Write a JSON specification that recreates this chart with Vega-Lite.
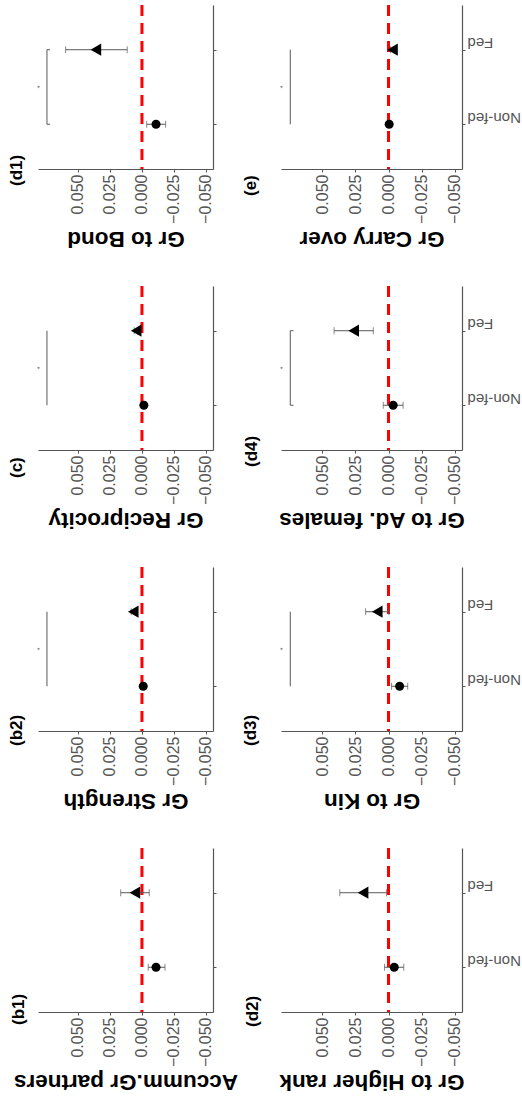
{
  "$schema": "https://vega.github.io/schema/vega-lite/v6.json",
  "padding": {"left": 8, "top": 3, "right": 0, "bottom": 0},
  "background": "white",
  "datasets": {
    "pts": [
      {"panel": "d1", "group": "Non-fed", "mean": -0.011, "lo": -0.0185, "hi": -0.0037},
      {"panel": "d1", "group": "Fed", "mean": 0.036, "lo": 0.0115, "hi": 0.0596},
      {"panel": "c", "group": "Non-fed", "mean": -0.0015, "lo": -0.003, "hi": 0.0},
      {"panel": "c", "group": "Fed", "mean": 0.0045, "lo": 0.003, "hi": 0.006},
      {"panel": "b2", "group": "Non-fed", "mean": -0.001, "lo": -0.0025, "hi": 0.0005},
      {"panel": "b2", "group": "Fed", "mean": 0.0068, "lo": 0.0052, "hi": 0.0084},
      {"panel": "b1", "group": "Non-fed", "mean": -0.011, "lo": -0.018, "hi": -0.0049},
      {"panel": "b1", "group": "Fed", "mean": 0.0055, "lo": -0.0057, "hi": 0.0166},
      {"panel": "e", "group": "Non-fed", "mean": -0.0005, "lo": -0.002, "hi": 0.001},
      {"panel": "e", "group": "Fed", "mean": -0.003, "lo": -0.0045, "hi": -0.0015},
      {"panel": "d4", "group": "Non-fed", "mean": -0.0035, "lo": -0.011, "hi": 0.004},
      {"panel": "d4", "group": "Fed", "mean": 0.0263, "lo": 0.0115, "hi": 0.0411},
      {"panel": "d3", "group": "Non-fed", "mean": -0.0084, "lo": -0.0145, "hi": -0.0023},
      {"panel": "d3", "group": "Fed", "mean": 0.0085, "lo": -0.0003, "hi": 0.0173},
      {"panel": "d2", "group": "Non-fed", "mean": -0.0043, "lo": -0.0115, "hi": 0.003},
      {"panel": "d2", "group": "Fed", "mean": 0.0192, "lo": 0.0015, "hi": 0.0368}
    ],
    "sig": [
      {"panel": "d1", "label": "*"},
      {"panel": "c", "label": "*"},
      {"panel": "b2", "label": "*"},
      {"panel": "e", "label": "*"},
      {"panel": "d4", "label": "*"},
      {"panel": "d3", "label": "*"}
    ]
  },
  "config": {
    "font": "Liberation Sans",
    "view": {"stroke": null},
    "axisX": {"labelAngle": 270, "labelFontSize": 16, "labelColor": "#555555", "labelPadding": 2, "tickSize": 3, "tickColor": "#555555", "domainColor": "#555555", "domainWidth": 1.2, "grid": false, "titleFontSize": 22.5, "titleFontWeight": "bold", "titleColor": "black", "titleAngle": 180, "titleBaseline": "alphabetic", "titlePadding": 8},
    "axisY": {"labelFontSize": 15, "labelColor": "#555555", "labelPadding": 2, "tickSize": 3, "tickColor": "#555555", "domainColor": "#555555", "domainWidth": 1.2, "grid": false},
    "title": {"fontSize": 17, "fontWeight": "bold", "color": "black", "orient": "left", "anchor": "start", "frame": "group"}
  },
  "columns": 2,
  "spacing": {"row": 117, "column": 68},
  "bounds": "flush",
  "align": "each",
  "concat": [
    {
      "width": 175, "height": 164,
      "title": {"text": "(d1)", "offset": 10, "dx": -17},
      "data": {"name": "pts"},
      "transform": [{"filter": "datum.panel === 'd1'"}],
      "layer": [
        {"transform": [{"filter": "datum.group === 'Fed'"}], "mark": {"type": "rule", "color": "#FF0000", "strokeWidth": 3, "strokeDash": [11, 7]}, "encoding": {"x": {"datum": 0, "type": "quantitative"}}},
        {"data": {"name": "sig"}, "transform": [{"filter": "datum.panel === 'd1'"}], "mark": {"type": "rule", "color": "#595959", "strokeWidth": 1}, "encoding": {"x": {"datum": 0.0742, "type": "quantitative"}, "y": {"datum": "Fed", "type": "nominal"}, "y2": {"datum": "Non-fed"}}},
        {"data": {"name": "sig"}, "transform": [{"filter": "datum.panel === 'd1'"}], "mark": {"type": "text", "angle": 270, "fontSize": 7, "color": "#595959"}, "encoding": {"x": {"datum": 0.0795, "type": "quantitative"}, "text": {"field": "label"}}},
        {"mark": {"type": "rule", "color": "#595959", "strokeWidth": 1}, "encoding": {"x": {"datum": 0.0742, "type": "quantitative"}, "x2": {"datum": 0.0718}, "y": {"field": "group", "type": "nominal"}}},
        {"mark": {"type": "errorbar", "ticks": {"size": 7, "color": "#595959"}, "color": "#595959", "thickness": 1}, "encoding": {"x": {"field": "lo", "type": "quantitative", "title": "Gr to Bond"}, "x2": {"field": "hi"}, "y": {"field": "group", "type": "nominal", "title": null}}},
        {"mark": {"type": "point", "filled": true, "opacity": 1, "color": "black"}, "encoding": {
          "x": {"field": "mean", "type": "quantitative", "scale": {"domain": [-0.0555, 0.0812], "reverse": true, "nice": false, "zero": false}, "axis": {"title": "Gr to Bond", "values": [-0.05, -0.025, 0, 0.025, 0.05], "format": ".3f"}},
          "y": {"field": "group", "type": "nominal", "scale": {"type": "point", "padding": 0.6, "domain": ["Fed", "Non-fed"]}, "axis": {"orient": "right", "title": null, "labels": false}},
          "shape": {"field": "group", "type": "nominal", "scale": {"domain": ["Non-fed", "Fed"], "range": ["circle", "triangle-left"]}, "legend": null},
          "size": {"field": "group", "type": "ordinal", "scale": {"domain": ["Non-fed", "Fed"], "range": [81, 150]}, "legend": null}}}
      ]
    },
    {
      "width": 181, "height": 164,
      "title": {"text": "(e)", "offset": 19, "dx": -27},
      "data": {"name": "pts"},
      "transform": [{"filter": "datum.panel === 'e'"}],
      "layer": [
        {"transform": [{"filter": "datum.group === 'Fed'"}], "mark": {"type": "rule", "color": "#FF0000", "strokeWidth": 3, "strokeDash": [11, 7]}, "encoding": {"x": {"datum": 0, "type": "quantitative"}}},
        {"data": {"name": "sig"}, "transform": [{"filter": "datum.panel === 'e'"}], "mark": {"type": "rule", "color": "#595959", "strokeWidth": 1}, "encoding": {"x": {"datum": 0.0742, "type": "quantitative"}, "y": {"datum": "Fed", "type": "nominal"}, "y2": {"datum": "Non-fed"}}},
        {"data": {"name": "sig"}, "transform": [{"filter": "datum.panel === 'e'"}], "mark": {"type": "text", "angle": 270, "fontSize": 7, "color": "#595959"}, "encoding": {"x": {"datum": 0.0795, "type": "quantitative"}, "text": {"field": "label"}}},
        {"mark": {"type": "errorbar", "ticks": {"size": 7, "color": "#595959"}, "color": "#595959", "thickness": 1}, "encoding": {"x": {"field": "lo", "type": "quantitative", "title": "Gr Carry over"}, "x2": {"field": "hi"}, "y": {"field": "group", "type": "nominal", "title": null}}},
        {"mark": {"type": "point", "filled": true, "opacity": 1, "color": "black"}, "encoding": {
          "x": {"field": "mean", "type": "quantitative", "scale": {"domain": [-0.0555, 0.0812], "reverse": true, "nice": false, "zero": false}, "axis": {"title": "Gr Carry over", "values": [-0.05, -0.025, 0, 0.025, 0.05], "format": ".3f"}},
          "y": {"field": "group", "type": "nominal", "scale": {"type": "point", "padding": 0.6, "domain": ["Fed", "Non-fed"]}, "axis": {"orient": "right", "title": null, "labelAngle": 180, "labelAlign": "right", "labelBaseline": "top"}},
          "shape": {"field": "group", "type": "nominal", "scale": {"domain": ["Non-fed", "Fed"], "range": ["circle", "triangle-left"]}, "legend": null},
          "size": {"field": "group", "type": "ordinal", "scale": {"domain": ["Non-fed", "Fed"], "range": [81, 150]}, "legend": null}}}
      ]
    },
    {
      "width": 175, "height": 164,
      "title": {"text": "(c)", "offset": 10, "dx": -28},
      "data": {"name": "pts"},
      "transform": [{"filter": "datum.panel === 'c'"}],
      "layer": [
        {"transform": [{"filter": "datum.group === 'Fed'"}], "mark": {"type": "rule", "color": "#FF0000", "strokeWidth": 3, "strokeDash": [11, 7]}, "encoding": {"x": {"datum": 0, "type": "quantitative"}}},
        {"data": {"name": "sig"}, "transform": [{"filter": "datum.panel === 'c'"}], "mark": {"type": "rule", "color": "#595959", "strokeWidth": 1}, "encoding": {"x": {"datum": 0.0742, "type": "quantitative"}, "y": {"datum": "Fed", "type": "nominal"}, "y2": {"datum": "Non-fed"}}},
        {"data": {"name": "sig"}, "transform": [{"filter": "datum.panel === 'c'"}], "mark": {"type": "text", "angle": 270, "fontSize": 7, "color": "#595959"}, "encoding": {"x": {"datum": 0.0795, "type": "quantitative"}, "text": {"field": "label"}}},
        {"mark": {"type": "errorbar", "ticks": {"size": 7, "color": "#595959"}, "color": "#595959", "thickness": 1}, "encoding": {"x": {"field": "lo", "type": "quantitative", "title": "Gr Reciprocity"}, "x2": {"field": "hi"}, "y": {"field": "group", "type": "nominal", "title": null}}},
        {"mark": {"type": "point", "filled": true, "opacity": 1, "color": "black"}, "encoding": {
          "x": {"field": "mean", "type": "quantitative", "scale": {"domain": [-0.0555, 0.0812], "reverse": true, "nice": false, "zero": false}, "axis": {"title": "Gr Reciprocity", "values": [-0.05, -0.025, 0, 0.025, 0.05], "format": ".3f"}},
          "y": {"field": "group", "type": "nominal", "scale": {"type": "point", "padding": 0.6, "domain": ["Fed", "Non-fed"]}, "axis": {"orient": "right", "title": null, "labels": false}},
          "shape": {"field": "group", "type": "nominal", "scale": {"domain": ["Non-fed", "Fed"], "range": ["circle", "triangle-left"]}, "legend": null},
          "size": {"field": "group", "type": "ordinal", "scale": {"domain": ["Non-fed", "Fed"], "range": [81, 150]}, "legend": null}}}
      ]
    },
    {
      "width": 181, "height": 164,
      "title": {"text": "(d4)", "offset": 17, "dx": -17},
      "data": {"name": "pts"},
      "transform": [{"filter": "datum.panel === 'd4'"}],
      "layer": [
        {"transform": [{"filter": "datum.group === 'Fed'"}], "mark": {"type": "rule", "color": "#FF0000", "strokeWidth": 3, "strokeDash": [11, 7]}, "encoding": {"x": {"datum": 0, "type": "quantitative"}}},
        {"data": {"name": "sig"}, "transform": [{"filter": "datum.panel === 'd4'"}], "mark": {"type": "rule", "color": "#595959", "strokeWidth": 1}, "encoding": {"x": {"datum": 0.0742, "type": "quantitative"}, "y": {"datum": "Fed", "type": "nominal"}, "y2": {"datum": "Non-fed"}}},
        {"data": {"name": "sig"}, "transform": [{"filter": "datum.panel === 'd4'"}], "mark": {"type": "text", "angle": 270, "fontSize": 7, "color": "#595959"}, "encoding": {"x": {"datum": 0.0795, "type": "quantitative"}, "text": {"field": "label"}}},
        {"mark": {"type": "rule", "color": "#595959", "strokeWidth": 1}, "encoding": {"x": {"datum": 0.0742, "type": "quantitative"}, "x2": {"datum": 0.0718}, "y": {"field": "group", "type": "nominal"}}},
        {"mark": {"type": "errorbar", "ticks": {"size": 7, "color": "#595959"}, "color": "#595959", "thickness": 1}, "encoding": {"x": {"field": "lo", "type": "quantitative", "title": "Gr to Ad. females"}, "x2": {"field": "hi"}, "y": {"field": "group", "type": "nominal", "title": null}}},
        {"mark": {"type": "point", "filled": true, "opacity": 1, "color": "black"}, "encoding": {
          "x": {"field": "mean", "type": "quantitative", "scale": {"domain": [-0.0555, 0.0812], "reverse": true, "nice": false, "zero": false}, "axis": {"title": "Gr to Ad. females", "values": [-0.05, -0.025, 0, 0.025, 0.05], "format": ".3f"}},
          "y": {"field": "group", "type": "nominal", "scale": {"type": "point", "padding": 0.6, "domain": ["Fed", "Non-fed"]}, "axis": {"orient": "right", "title": null, "labelAngle": 180, "labelAlign": "right", "labelBaseline": "top"}},
          "shape": {"field": "group", "type": "nominal", "scale": {"domain": ["Non-fed", "Fed"], "range": ["circle", "triangle-left"]}, "legend": null},
          "size": {"field": "group", "type": "ordinal", "scale": {"domain": ["Non-fed", "Fed"], "range": [81, 150]}, "legend": null}}}
      ]
    },
    {
      "width": 175, "height": 164,
      "title": {"text": "(b2)", "offset": 10, "dx": -15},
      "data": {"name": "pts"},
      "transform": [{"filter": "datum.panel === 'b2'"}],
      "layer": [
        {"transform": [{"filter": "datum.group === 'Fed'"}], "mark": {"type": "rule", "color": "#FF0000", "strokeWidth": 3, "strokeDash": [11, 7]}, "encoding": {"x": {"datum": 0, "type": "quantitative"}}},
        {"data": {"name": "sig"}, "transform": [{"filter": "datum.panel === 'b2'"}], "mark": {"type": "rule", "color": "#595959", "strokeWidth": 1}, "encoding": {"x": {"datum": 0.0742, "type": "quantitative"}, "y": {"datum": "Fed", "type": "nominal"}, "y2": {"datum": "Non-fed"}}},
        {"data": {"name": "sig"}, "transform": [{"filter": "datum.panel === 'b2'"}], "mark": {"type": "text", "angle": 270, "fontSize": 7, "color": "#595959"}, "encoding": {"x": {"datum": 0.0795, "type": "quantitative"}, "text": {"field": "label"}}},
        {"mark": {"type": "errorbar", "ticks": {"size": 7, "color": "#595959"}, "color": "#595959", "thickness": 1}, "encoding": {"x": {"field": "lo", "type": "quantitative", "title": "Gr Strength"}, "x2": {"field": "hi"}, "y": {"field": "group", "type": "nominal", "title": null}}},
        {"mark": {"type": "point", "filled": true, "opacity": 1, "color": "black"}, "encoding": {
          "x": {"field": "mean", "type": "quantitative", "scale": {"domain": [-0.0555, 0.0812], "reverse": true, "nice": false, "zero": false}, "axis": {"title": "Gr Strength", "values": [-0.05, -0.025, 0, 0.025, 0.05], "format": ".3f"}},
          "y": {"field": "group", "type": "nominal", "scale": {"type": "point", "padding": 0.6, "domain": ["Fed", "Non-fed"]}, "axis": {"orient": "right", "title": null, "labels": false}},
          "shape": {"field": "group", "type": "nominal", "scale": {"domain": ["Non-fed", "Fed"], "range": ["circle", "triangle-left"]}, "legend": null},
          "size": {"field": "group", "type": "ordinal", "scale": {"domain": ["Non-fed", "Fed"], "range": [81, 150]}, "legend": null}}}
      ]
    },
    {
      "width": 181, "height": 164,
      "title": {"text": "(d3)", "offset": 19, "dx": -15},
      "data": {"name": "pts"},
      "transform": [{"filter": "datum.panel === 'd3'"}],
      "layer": [
        {"transform": [{"filter": "datum.group === 'Fed'"}], "mark": {"type": "rule", "color": "#FF0000", "strokeWidth": 3, "strokeDash": [11, 7]}, "encoding": {"x": {"datum": 0, "type": "quantitative"}}},
        {"data": {"name": "sig"}, "transform": [{"filter": "datum.panel === 'd3'"}], "mark": {"type": "rule", "color": "#595959", "strokeWidth": 1}, "encoding": {"x": {"datum": 0.0742, "type": "quantitative"}, "y": {"datum": "Fed", "type": "nominal"}, "y2": {"datum": "Non-fed"}}},
        {"data": {"name": "sig"}, "transform": [{"filter": "datum.panel === 'd3'"}], "mark": {"type": "text", "angle": 270, "fontSize": 7, "color": "#595959"}, "encoding": {"x": {"datum": 0.0795, "type": "quantitative"}, "text": {"field": "label"}}},
        {"mark": {"type": "errorbar", "ticks": {"size": 7, "color": "#595959"}, "color": "#595959", "thickness": 1}, "encoding": {"x": {"field": "lo", "type": "quantitative", "title": "Gr to Kin"}, "x2": {"field": "hi"}, "y": {"field": "group", "type": "nominal", "title": null}}},
        {"mark": {"type": "point", "filled": true, "opacity": 1, "color": "black"}, "encoding": {
          "x": {"field": "mean", "type": "quantitative", "scale": {"domain": [-0.0555, 0.0812], "reverse": true, "nice": false, "zero": false}, "axis": {"title": "Gr to Kin", "values": [-0.05, -0.025, 0, 0.025, 0.05], "format": ".3f"}},
          "y": {"field": "group", "type": "nominal", "scale": {"type": "point", "padding": 0.6, "domain": ["Fed", "Non-fed"]}, "axis": {"orient": "right", "title": null, "labelAngle": 180, "labelAlign": "right", "labelBaseline": "top"}},
          "shape": {"field": "group", "type": "nominal", "scale": {"domain": ["Non-fed", "Fed"], "range": ["circle", "triangle-left"]}, "legend": null},
          "size": {"field": "group", "type": "ordinal", "scale": {"domain": ["Non-fed", "Fed"], "range": [81, 150]}, "legend": null}}}
      ]
    },
    {
      "width": 175, "height": 164,
      "title": {"text": "(b1)", "offset": -14.5, "dx": -13},
      "data": {"name": "pts"},
      "transform": [{"filter": "datum.panel === 'b1'"}],
      "layer": [
        {"transform": [{"filter": "datum.group === 'Fed'"}], "mark": {"type": "rule", "color": "#FF0000", "strokeWidth": 3, "strokeDash": [11, 7]}, "encoding": {"x": {"datum": 0, "type": "quantitative"}}},
        {"mark": {"type": "errorbar", "ticks": {"size": 7, "color": "#595959"}, "color": "#595959", "thickness": 1}, "encoding": {"x": {"field": "lo", "type": "quantitative", "title": "Accumm.Gr partners"}, "x2": {"field": "hi"}, "y": {"field": "group", "type": "nominal", "title": null}}},
        {"mark": {"type": "point", "filled": true, "opacity": 1, "color": "black"}, "encoding": {
          "x": {"field": "mean", "type": "quantitative", "scale": {"domain": [-0.0555, 0.0812], "reverse": true, "nice": false, "zero": false}, "axis": {"title": "Accumm.Gr partners", "values": [-0.05, -0.025, 0, 0.025, 0.05], "format": ".3f"}},
          "y": {"field": "group", "type": "nominal", "scale": {"type": "point", "padding": 0.6, "domain": ["Fed", "Non-fed"]}, "axis": {"orient": "right", "title": null, "labels": false}},
          "shape": {"field": "group", "type": "nominal", "scale": {"domain": ["Non-fed", "Fed"], "range": ["circle", "triangle-left"]}, "legend": null},
          "size": {"field": "group", "type": "ordinal", "scale": {"domain": ["Non-fed", "Fed"], "range": [81, 150]}, "legend": null}}}
      ]
    },
    {
      "width": 181, "height": 164,
      "title": {"text": "(d2)", "offset": 17, "dx": -15},
      "data": {"name": "pts"},
      "transform": [{"filter": "datum.panel === 'd2'"}],
      "layer": [
        {"transform": [{"filter": "datum.group === 'Fed'"}], "mark": {"type": "rule", "color": "#FF0000", "strokeWidth": 3, "strokeDash": [11, 7]}, "encoding": {"x": {"datum": 0, "type": "quantitative"}}},
        {"mark": {"type": "errorbar", "ticks": {"size": 7, "color": "#595959"}, "color": "#595959", "thickness": 1}, "encoding": {"x": {"field": "lo", "type": "quantitative", "title": "Gr to Higher rank"}, "x2": {"field": "hi"}, "y": {"field": "group", "type": "nominal", "title": null}}},
        {"mark": {"type": "point", "filled": true, "opacity": 1, "color": "black"}, "encoding": {
          "x": {"field": "mean", "type": "quantitative", "scale": {"domain": [-0.0555, 0.0812], "reverse": true, "nice": false, "zero": false}, "axis": {"title": "Gr to Higher rank", "values": [-0.05, -0.025, 0, 0.025, 0.05], "format": ".3f"}},
          "y": {"field": "group", "type": "nominal", "scale": {"type": "point", "padding": 0.6, "domain": ["Fed", "Non-fed"]}, "axis": {"orient": "right", "title": null, "labelAngle": 180, "labelAlign": "right", "labelBaseline": "top"}},
          "shape": {"field": "group", "type": "nominal", "scale": {"domain": ["Non-fed", "Fed"], "range": ["circle", "triangle-left"]}, "legend": null},
          "size": {"field": "group", "type": "ordinal", "scale": {"domain": ["Non-fed", "Fed"], "range": [81, 150]}, "legend": null}}}
      ]
    }
  ]
}
